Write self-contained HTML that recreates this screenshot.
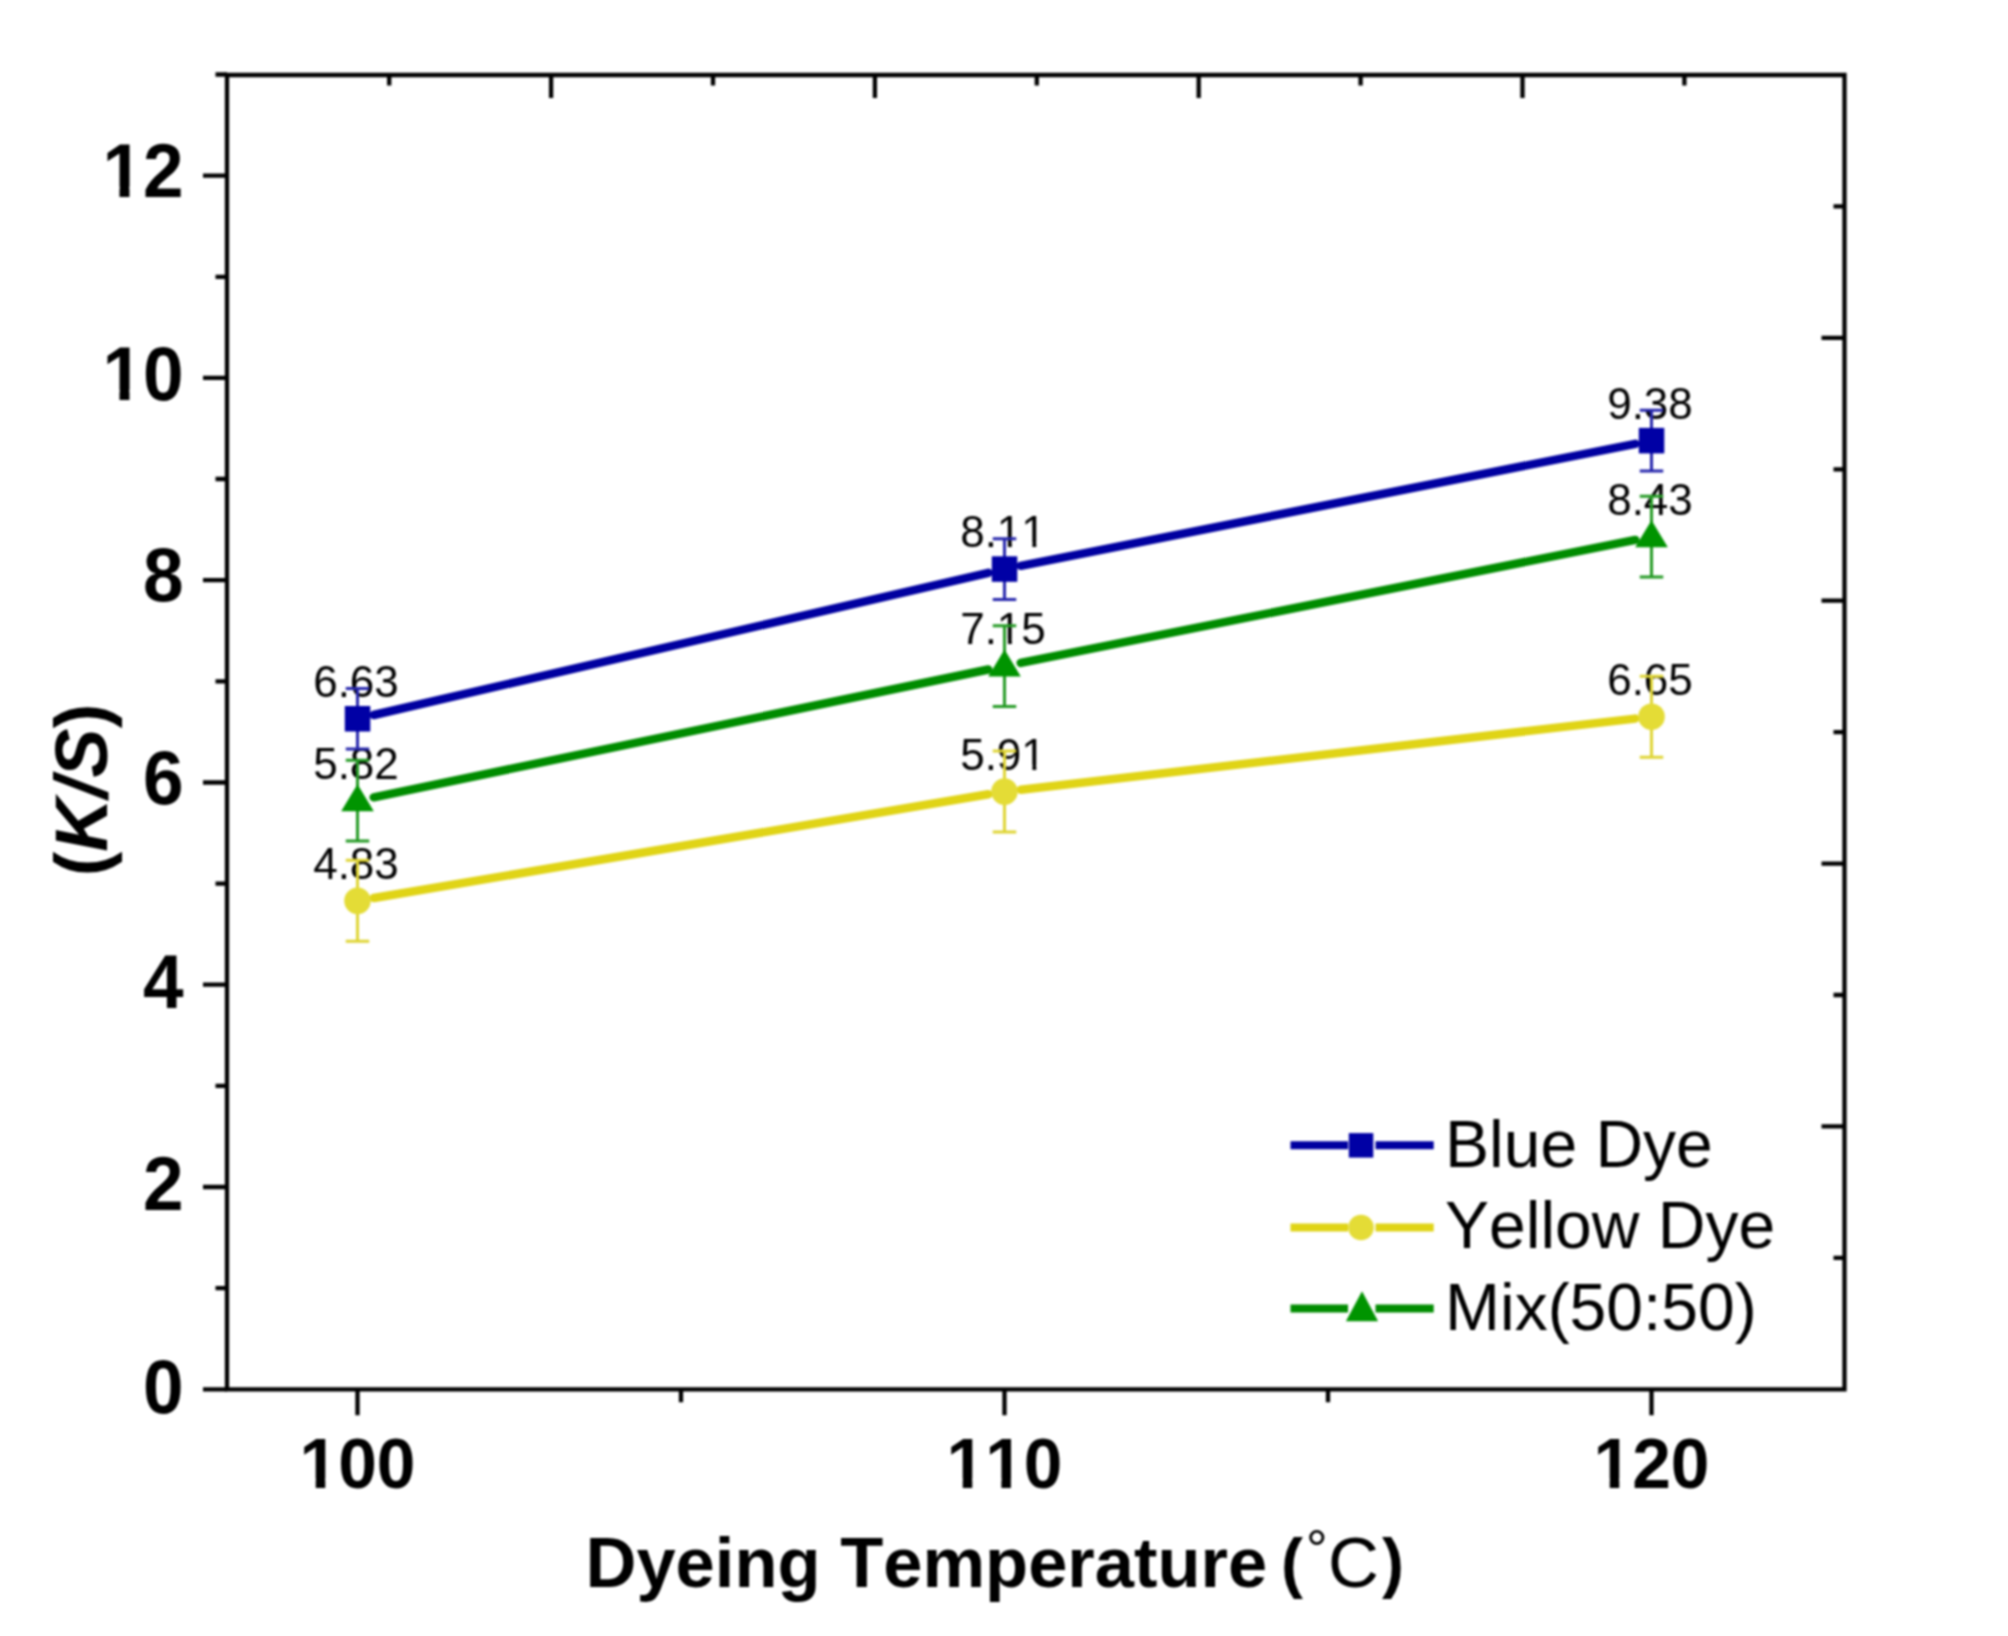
<!DOCTYPE html><html><head><meta charset="utf-8"><title>K/S vs Dyeing Temperature</title><style>html,body{margin:0;padding:0;background:#fff;width:2008px;height:1636px;overflow:hidden}svg{display:block}#w{filter:blur(1px)}text{font-family:"Liberation Sans",Arial,sans-serif;font-kerning:none}</style></head><body>
<div id="w">
<svg width="2008" height="1636" viewBox="0 0 2008 1636">
<rect width="2008" height="1636" fill="#fff"/>
<path d="M203.0,1389.3H227.0 M215.5,1288.2H227.0 M203.0,1187.0H227.0 M215.5,1085.9H227.0 M203.0,984.7H227.0 M215.5,883.6H227.0 M203.0,782.5H227.0 M215.5,681.3H227.0 M203.0,580.2H227.0 M215.5,479.0H227.0 M203.0,377.9H227.0 M215.5,276.8H227.0 M203.0,175.6H227.0 M215.5,74.5H227.0 M357.5,1389.3V1415.3 M681,1389.3V1402.3 M1004.5,1389.3V1415.3 M1328,1389.3V1402.3 M1651.5,1389.3V1415.3 M389.2,75.0V85.5 M551.1,75.0V98.0 M713.0,75.0V85.5 M874.9,75.0V98.0 M1036.8,75.0V85.5 M1198.7,75.0V98.0 M1360.6,75.0V85.5 M1522.5,75.0V98.0 M1684.4,75.0V85.5 M1844.5,206.4H1833.5 M1844.5,337.9H1821.5 M1844.5,469.3H1833.5 M1844.5,600.7H1821.5 M1844.5,732.2H1833.5 M1844.5,863.6H1821.5 M1844.5,995.0H1833.5 M1844.5,1126.4H1821.5 M1844.5,1257.9H1833.5" stroke="#000" stroke-width="4.3" fill="none"/>
<path d="M227.0,75.0H1844.5V1389.3H227.0Z" stroke="#000" stroke-width="4.3" fill="none"/>
<g transform="translate(183.6,1412.5) scale(0.96,1)"><text id="t0" x="0" y="0" text-anchor="end" font-size="76" font-weight="bold">0</text></g>
<g transform="translate(183.6,1210.0) scale(0.96,1)"><text id="t1" x="0" y="0" text-anchor="end" font-size="76" font-weight="bold">2</text></g>
<g transform="translate(183.6,1008.2) scale(0.96,1)"><text id="t2" x="0" y="0" text-anchor="end" font-size="76" font-weight="bold">4</text></g>
<g transform="translate(183.6,804.2) scale(0.96,1)"><text id="t3" x="0" y="0" text-anchor="end" font-size="76" font-weight="bold">6</text></g>
<g transform="translate(183.6,600.8) scale(0.96,1)"><text id="t4" x="0" y="0" text-anchor="end" font-size="76" font-weight="bold">8</text></g>
<g transform="translate(183.6,400.0) scale(0.96,1)"><text id="t5" x="0" y="0" text-anchor="end" font-size="76" font-weight="bold">10</text><rect x="-81.23" y="-10.35" width="14.44" height="12.35" fill="#fff"/><rect x="-56.37" y="-10.35" width="13.47" height="12.35" fill="#fff"/></g>
<g transform="translate(183.6,196.9) scale(0.96,1)"><text id="t6" x="0" y="0" text-anchor="end" font-size="76" font-weight="bold">12</text><rect x="-81.23" y="-10.35" width="14.44" height="12.35" fill="#fff"/><rect x="-56.37" y="-10.35" width="13.47" height="12.35" fill="#fff"/></g>
<text id="t7" x="357.5" y="1488" text-anchor="middle" font-size="69.5" font-weight="bold">100</text><rect x="302.54" y="1478.53" width="13.20" height="11.47" fill="#fff"/><rect x="325.27" y="1478.53" width="12.32" height="11.47" fill="#fff"/>
<text id="t8" x="1004.5" y="1488" text-anchor="middle" font-size="69.5" font-weight="bold">110</text><rect x="949.54" y="1478.53" width="13.20" height="11.47" fill="#fff"/><rect x="972.27" y="1478.53" width="12.32" height="11.47" fill="#fff"/><rect x="988.18" y="1478.53" width="13.20" height="11.47" fill="#fff"/><rect x="1010.91" y="1478.53" width="12.32" height="11.47" fill="#fff"/>
<text id="t9" x="1651.5" y="1488" text-anchor="middle" font-size="69.5" font-weight="bold">120</text><rect x="1596.54" y="1478.53" width="13.20" height="11.47" fill="#fff"/><rect x="1619.27" y="1478.53" width="12.32" height="11.47" fill="#fff"/>
<text y="1586.6" font-size="70.5" font-weight="bold"><tspan x="585.5">Dyeing Temperature </tspan><tspan x="1281" y="1584.5" font-size="66">(</tspan><tspan x="1306" y="1568" font-size="54" font-weight="normal">°</tspan><tspan x="1328" y="1586.6" font-weight="normal">C</tspan><tspan x="1382" y="1584.5" font-size="66">)</tspan></text>
<text transform="translate(107,790) rotate(-90)" text-anchor="middle" font-size="74" font-weight="bold">(<tspan font-style="italic">K/S</tspan>)</text>
<text id="t10" x="356.0" y="696.7" text-anchor="middle" font-size="44">6.63</text>
<text id="t11" x="1003.0" y="547.1" text-anchor="middle" font-size="44">8.11</text><rect x="999.36" y="542.31" width="8.57" height="6.79" fill="#fff"/><rect x="1011.82" y="542.31" width="8.23" height="6.79" fill="#fff"/><rect x="1023.83" y="542.31" width="8.57" height="6.79" fill="#fff"/><rect x="1036.29" y="542.31" width="8.23" height="6.79" fill="#fff"/>
<text id="t12" x="1650.0" y="418.6" text-anchor="middle" font-size="44">9.38</text>
<text id="t13" x="356.0" y="778.7" text-anchor="middle" font-size="44">5.82</text>
<text id="t14" x="1003.0" y="644.1" text-anchor="middle" font-size="44">7.15</text><rect x="999.36" y="639.31" width="8.57" height="6.79" fill="#fff"/><rect x="1011.82" y="639.31" width="8.23" height="6.79" fill="#fff"/>
<text id="t15" x="1650.0" y="514.7" text-anchor="middle" font-size="44">8.43</text>
<text id="t16" x="356.0" y="878.8" text-anchor="middle" font-size="44">4.83</text>
<text id="t17" x="1003.0" y="769.6" text-anchor="middle" font-size="44">5.91</text><rect x="1023.83" y="764.81" width="8.57" height="6.79" fill="#fff"/><rect x="1036.29" y="764.81" width="8.23" height="6.79" fill="#fff"/>
<text id="t18" x="1650.0" y="694.7" text-anchor="middle" font-size="44">6.65</text>
<path d="M373.6,715.0L988.4,572.8 M1020.7,565.8L1635.3,443.8" stroke="#0000A0" stroke-width="8.5" fill="none" stroke-linecap="round"/>
<path d="M357.5,688.4V749.1M345.75,688.4h23.5M345.75,749.1h23.5 M1004.5,538.7V599.4M992.75,538.7h23.5M992.75,599.4h23.5 M1651.5,410.3V470.9M1639.75,410.3h23.5M1639.75,470.9h23.5" stroke="#2626AC" stroke-width="3" fill="none"/>
<rect x="344.8" y="706.0" width="25.5" height="25.5" fill="#0000A5"/>
<rect x="991.8" y="556.3" width="25.5" height="25.5" fill="#0000A5"/>
<rect x="1638.8" y="427.9" width="25.5" height="25.5" fill="#0000A5"/>
<path d="M373.7,797.3L988.3,669.5 M1020.7,662.9L1635.3,539.9" stroke="#008C00" stroke-width="8.5" fill="none" stroke-linecap="round"/>
<path d="M357.5,760.2V841.1M345.75,760.2h23.5M345.75,841.1h23.5 M1004.5,625.7V706.6M992.75,625.7h23.5M992.75,706.6h23.5 M1651.5,496.2V577.1M1639.75,496.2h23.5M1639.75,577.1h23.5" stroke="#249A24" stroke-width="3" fill="none"/>
<polygon points="357.5,784.2 373.8,811.2 341.2,811.2" fill="#009400"/>
<polygon points="1004.5,649.6 1020.8,676.6 988.2,676.6" fill="#009400"/>
<polygon points="1651.5,520.2 1667.8,547.2 1635.2,547.2" fill="#009400"/>
<path d="M373.8,898.0L988.2,794.3 M1020.9,789.7L1635.1,718.6" stroke="#E0D416" stroke-width="8.5" fill="none" stroke-linecap="round"/>
<path d="M357.5,860.3V941.2M345.75,860.3h23.5M345.75,941.2h23.5 M1004.5,751.1V832.0M992.75,751.1h23.5M992.75,832.0h23.5 M1651.5,676.3V757.2M1639.75,676.3h23.5M1639.75,757.2h23.5" stroke="#DFD535" stroke-width="3" fill="none"/>
<circle cx="357.5" cy="900.8" r="13.3" fill="#E4DC36"/>
<circle cx="1004.5" cy="791.6" r="13.3" fill="#E4DC36"/>
<circle cx="1651.5" cy="716.7" r="13.3" fill="#E4DC36"/>
<path d="M1290.5,1145.3H1348M1375.5,1145.3H1433.7" stroke="#0000A0" stroke-width="8"/>
<rect x="1348.8" y="1133.1" width="24.5" height="24.5" fill="#0000A5"/>
<text x="1445" y="1167.3" font-size="66">Blue Dye</text>
<path d="M1290.5,1227.5H1348M1375.5,1227.5H1433.7" stroke="#E0D416" stroke-width="8"/>
<circle cx="1361.0" cy="1227.5" r="12.8" fill="#E4DC36"/>
<text x="1445" y="1247.8" font-size="66">Yellow Dye</text>
<path d="M1290.5,1308.5H1348M1375.5,1308.5H1433.7" stroke="#008C00" stroke-width="8"/>
<polygon points="1362.0,1291.3 1378.1,1321.2 1345.9,1321.2" fill="#009400"/>
<text x="1445" y="1329.6" font-size="66">Mix(50:50)</text>
</svg></div></body></html>
